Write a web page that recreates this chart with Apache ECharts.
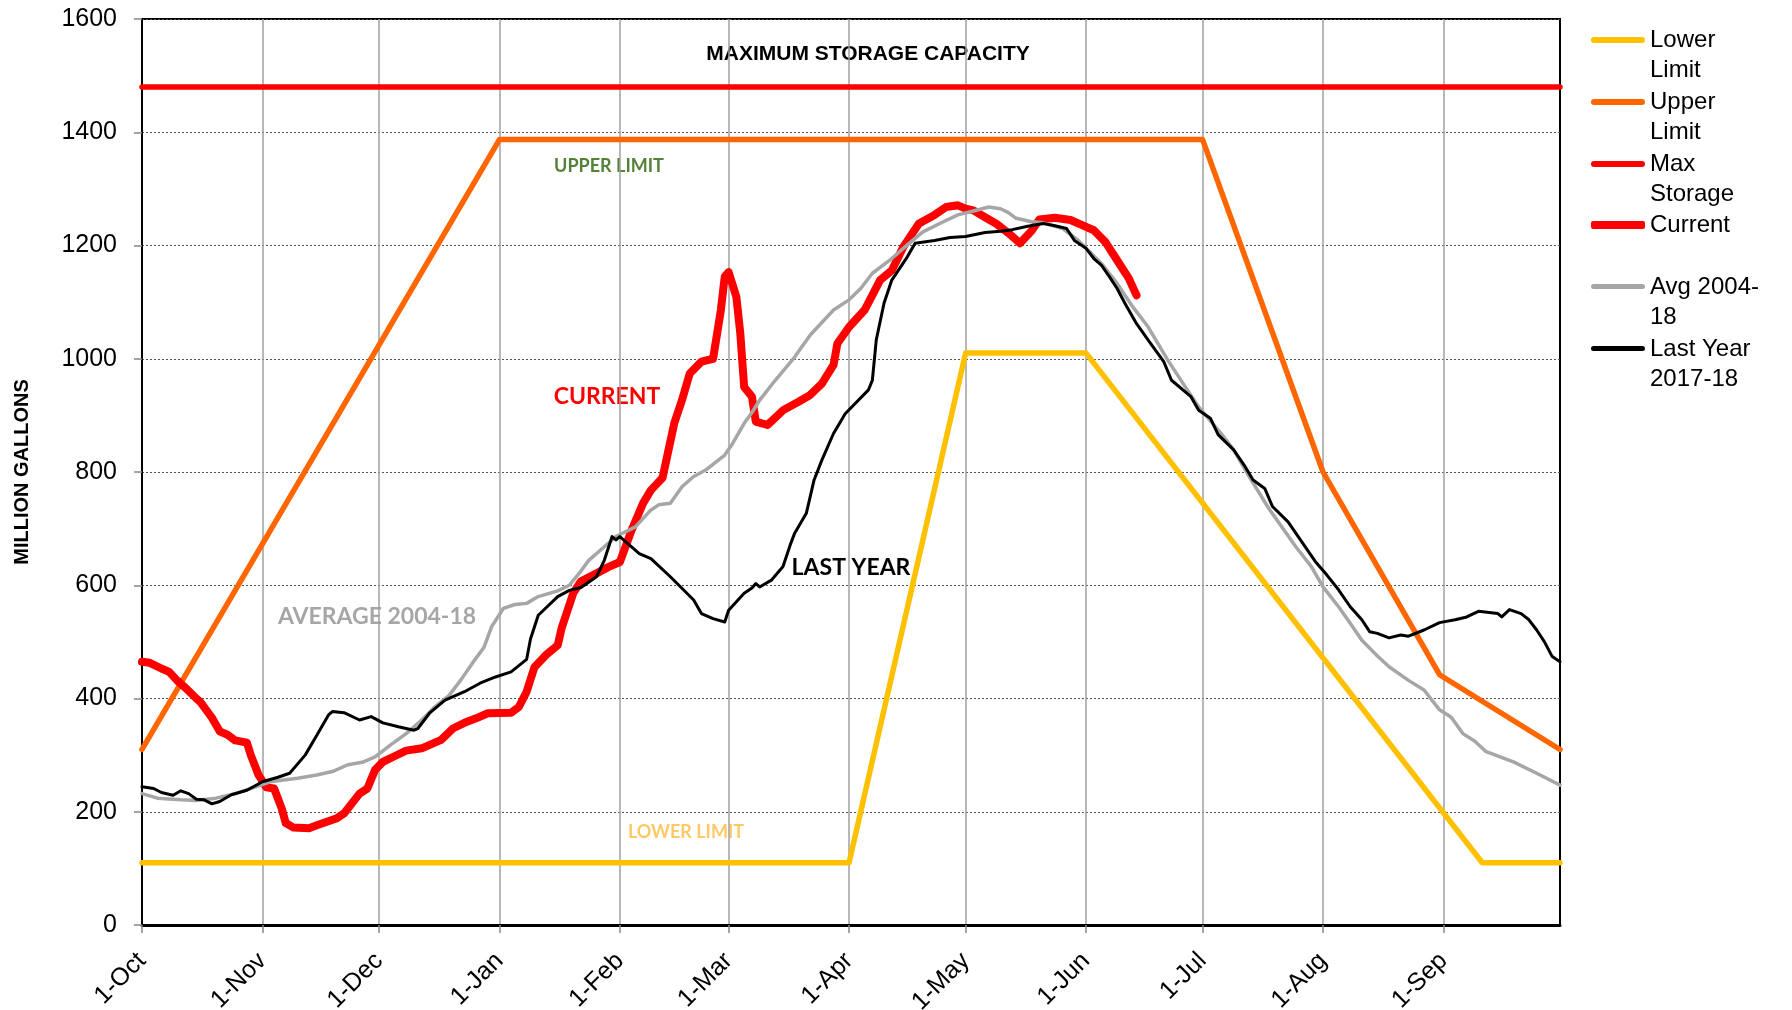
<!DOCTYPE html>
<html style="height: 100%">
<head>
    <meta charset="utf-8">
</head>
<body style="height: 100%; margin: 0">
<div id="container" style="width: 1792px; height: 1010px"></div>
<script type="text/javascript" src="https://cdn.jsdelivr.net/npm/echarts@6/dist/echarts.min.js"></script>
<script type="text/javascript">

var dom = document.getElementById("container");
var myChart = echarts.init(dom);

// water year, days counted from 1-Oct (day 0) to 1-Oct of next year (day 365)
var monthNames = ['Oct', 'Nov', 'Dec', 'Jan', 'Feb', 'Mar', 'Apr', 'May', 'Jun', 'Jul', 'Aug', 'Sep'];
var monthLengths = [31, 30, 31, 31, 28, 31, 30, 31, 30, 31, 31, 30];

var lowerDays = [0, 182, 212, 243, 345, 365];
var lowerValues = [110, 110, 1010, 1010, 110, 110];

var upperDays = [0, 92, 273, 304, 334, 365];
var upperValues = [310, 1387, 1387, 800, 442, 310];

var maxDays = [0, 365];
var maxValues = [1480, 1480];

var currentDays = [0, 2, 5, 7, 9, 11, 14, 15, 18, 20, 22, 24, 27, 28, 30, 32, 34, 36, 37, 39,
    43, 45, 50, 52, 56, 58, 60, 62, 65, 68, 72, 77, 80, 83, 86, 89, 95, 97, 99, 101,
    104, 107, 108, 110, 111, 113, 117, 120, 123, 126, 129, 131, 134, 137, 139, 141, 144, 147, 149, 150,
    151, 153, 154, 155, 157, 158, 161, 165, 169, 172, 175, 178, 179, 182, 186, 190, 193, 196, 200, 204,
    207, 210, 212, 214, 217, 220, 223, 225, 226, 229, 231, 235, 239, 242, 245, 248, 251, 254, 256];
var currentValues = [465, 463, 453, 447, 432, 420, 400, 394, 366, 342, 336, 326, 322, 300, 265, 243, 241, 205, 180, 172,
    171, 176, 188, 197, 232, 241, 274, 288, 298, 308, 312, 327, 347, 357, 365, 374, 375, 385, 412, 455,
    477, 494, 524, 565, 586, 607, 621, 632, 641, 697, 745, 768, 790, 886, 927, 974, 995, 1000, 1086, 1145,
    1153, 1109, 1045, 950, 933, 889, 883, 909, 924, 936, 956, 989, 1027, 1056, 1086, 1139, 1156, 1198, 1239, 1254,
    1268, 1271, 1265, 1262, 1250, 1238, 1222, 1210, 1204, 1226, 1246, 1249, 1245, 1236, 1227, 1206, 1174, 1142, 1112];

var avgDays = [0, 4, 10, 14, 19, 24, 28, 33, 40, 45, 49, 53, 57, 60, 64, 68, 72, 75, 79, 82,
    85, 88, 90, 93, 96, 99, 102, 107, 110, 113, 115, 119, 122, 127, 131, 133, 136, 139, 142, 145,
    150, 152, 155, 157, 159, 163, 168, 172, 178, 182, 185, 188, 193, 197, 201, 206, 210, 214, 218, 221,
    223, 225, 229, 232, 237, 241, 247, 251, 255, 259, 264, 268, 272, 278, 281, 285, 290, 294, 297, 301,
    304, 308, 311, 314, 318, 321, 326, 330, 334, 337, 340, 343, 346, 353, 359, 365];
var avgValues = [232, 224, 221, 220, 224, 232, 241, 253, 259, 265, 271, 283, 288, 297, 318, 338, 362, 383, 405, 432,
    462, 490, 527, 559, 566, 568, 580, 590, 600, 625, 644, 668, 686, 703, 733, 742, 745, 774, 792, 803,
    830, 850, 886, 905, 927, 962, 1003, 1042, 1086, 1104, 1124, 1151, 1177, 1201, 1224, 1241, 1254, 1261, 1268, 1265,
    1258, 1248, 1242, 1240, 1230, 1209, 1168, 1133, 1092, 1056, 998, 956, 915, 866, 839, 792, 736, 697, 668, 633,
    597, 562, 533, 503, 475, 456, 432, 415, 380, 367, 338, 325, 306, 288, 268, 247];

var lastDays = [0, 3, 5, 8, 10, 12, 14, 16, 18, 20, 23, 27, 31, 35, 38, 42, 45, 48, 49, 52,
    56, 59, 62, 66, 70, 71, 74, 78, 83, 87, 91, 95, 99, 100, 102, 107, 110, 113, 117, 119,
    121, 122, 123, 128, 131, 136, 142, 144, 147, 150, 151, 155, 157, 158, 159, 162, 165, 167, 168, 171,
    173, 175, 178, 181, 187, 188, 189, 191, 193, 197, 199, 204, 208, 212, 217, 221, 224, 228, 232, 235,
    238, 240, 243, 245, 247, 249, 251, 253, 256, 259, 263, 265, 270, 272, 275, 277, 281, 284, 286, 289,
    291, 295, 297, 300, 302, 305, 308, 311, 314, 316, 318, 321, 324, 326, 330, 334, 338, 341, 344, 349,
    350, 352, 355, 357, 359, 361, 363, 365];
var lastValues = [244, 241, 234, 229, 237, 232, 222, 221, 214, 218, 230, 238, 253, 261, 268, 300, 335, 371, 377, 375,
    362, 368, 357, 350, 344, 347, 374, 397, 412, 427, 438, 447, 469, 505, 547, 580, 591, 596, 615, 644,
    686, 680, 686, 656, 647, 615, 574, 550, 541, 535, 556, 586, 595, 603, 597, 609, 633, 674, 692, 727,
    786, 821, 868, 903, 945, 962, 1033, 1098, 1139, 1180, 1204, 1209, 1214, 1216, 1223, 1225, 1228, 1234, 1239, 1235,
    1230, 1209, 1195, 1177, 1165, 1145, 1124, 1098, 1062, 1033, 995, 962, 933, 909, 895, 866, 839, 809, 786, 771,
    739, 712, 692, 662, 642, 618, 592, 562, 539, 518, 515, 507, 512, 510, 521, 534, 539, 544, 554, 550,
    544, 557, 550, 539, 521, 500, 474, 465];

var categories = [];
var monthStarts = {};
monthNames.forEach(function (m, i) {
    monthStarts[categories.length] = true;
    for (var d = 1; d <= monthLengths[i]; d++) {
        categories.push(d + '-' + m);
    }
});
categories.push('1-Oct');

function pairs(days, values) {
    return days.map(function (d, i) { return [d, values[i]]; });
}
function isMonthStart(index) {
    return monthStarts[index] === true;
}

var FONT = '"Liberation Sans", Arial, sans-serif';
var NOTE_FONT = 'Lato, "Open Sans", sans-serif';

function lineSeries(name, color, width, data) {
    return {
        name: name,
        type: 'line',
        data: data,
        symbol: 'none',
        color: color,
        lineStyle: { color: color, width: width, cap: 'round', join: 'round' },
        emphasis: { disabled: true },
        animation: false
    };
}

// legend swatch sits level with the first line of a two-line label
function barIcon(thick) {
    var r = thick / 2;
    return 'path://M' + r + ',0 L' + (54 - r) + ',0 A' + r + ',' + r + ' 0 0 1 ' + (54 - r) + ',' + thick +
        ' L' + r + ',' + thick + ' A' + r + ',' + r + ' 0 0 1 ' + r + ',0 Z M0,36 L54,36';
}

function legendEntry(name, text, top, thick) {
    var twoLines = text.indexOf('\n') >= 0;
    return {
        data: [name],
        orient: 'vertical',
        left: 1591,
        top: top,
        padding: 0,
        icon: twoLines ? barIcon(thick) : 'roundRect',
        itemWidth: 54,
        itemHeight: twoLines ? 36 : thick,
        itemGap: 0,
        selectedMode: false,
        itemStyle: { borderWidth: 0 },
        formatter: function () { return text; },
        textStyle: { fontFamily: FONT, fontSize: 24, color: '#000', lineHeight: 30 }
    };
}

var option = {
    backgroundColor: '#fff',
    animation: false,
    grid: {
        left: 142, right: 232, top: 19, bottom: 85,
        outerBoundsMode: 'none',
        show: true, borderColor: '#000', borderWidth: 2
    },
    legend: [
        legendEntry('Lower Limit', 'Lower\nLimit', 25, 6),
        legendEntry('Upper Limit', 'Upper\nLimit', 87, 6),
        legendEntry('Max Storage', 'Max\nStorage', 149, 6),
        legendEntry('Current', 'Current', 210, 8),
        legendEntry('Avg 2004-18', 'Avg 2004-\n18', 272, 5),
        legendEntry('Last Year 2017-18', 'Last Year\n2017-18', 334, 5)
    ],
    xAxis: {
        type: 'category',
        data: categories,
        boundaryGap: false,
        axisLine: { lineStyle: { color: '#000', width: 3 } },
        axisTick: { show: true, interval: isMonthStart, length: 8, lineStyle: { color: '#888', width: 1.5 } },
        axisLabel: {
            interval: isMonthStart,
            rotate: 45,
            margin: 32,
            fontFamily: FONT,
            fontSize: 25,
            color: '#000'
        },
        splitLine: { show: true, interval: isMonthStart, lineStyle: { color: '#a0a0a0', width: 1.5 } }
    },
    yAxis: {
        type: 'value',
        min: 0,
        max: 1600,
        interval: 200,
        name: 'MILLION GALLONS',
        nameLocation: 'middle',
        nameGap: 110,
        nameTextStyle: { fontFamily: FONT, fontSize: 20, fontWeight: 'bold', color: '#000' },
        axisLine: { show: true, lineStyle: { color: '#000', width: 2 } },
        axisTick: { show: true, length: 8, lineStyle: { color: '#888', width: 1.5 } },
        axisLabel: {
            margin: 25, fontFamily: FONT, fontSize: 25, color: '#000',
            formatter: function (v) { return String(v); }
        },
        splitLine: { show: true, lineStyle: { color: '#555', width: 1, type: [2, 2] } }
    },
    series: [
        lineSeries('Lower Limit', '#FFC000', 5.5, pairs(lowerDays, lowerValues)),
        lineSeries('Upper Limit', '#FF6600', 5.5, pairs(upperDays, upperValues)),
        lineSeries('Max Storage', '#FF0000', 5.5, pairs(maxDays, maxValues)),
        lineSeries('Current', '#FF0000', 8, pairs(currentDays, currentValues)),
        lineSeries('Avg 2004-18', '#A6A6A6', 3.5, pairs(avgDays, avgValues)),
        lineSeries('Last Year 2017-18', '#000000', 3, pairs(lastDays, lastValues))
    ],
    graphic: [
        { type: 'text', x: 868, y: 54, style: { text: 'MAXIMUM STORAGE CAPACITY', fontFamily: FONT, fontWeight: 'bold', fontSize: 21, fill: '#000', align: 'center', verticalAlign: 'middle' } },
        { type: 'text', x: 609, y: 166, style: { text: 'UPPER LIMIT', fontFamily: NOTE_FONT, fontWeight: 'bold', fontSize: 18, fill: '#538135', align: 'center', verticalAlign: 'middle' } },
        { type: 'text', x: 607, y: 397, style: { text: 'CURRENT', fontFamily: NOTE_FONT, fontWeight: 'bold', fontSize: 23, fill: '#FF0000', align: 'center', verticalAlign: 'middle' } },
        { type: 'text', x: 377, y: 617, style: { text: 'AVERAGE 2004-18', fontFamily: NOTE_FONT, fontWeight: 'bold', fontSize: 23, fill: '#A6A6A6', align: 'center', verticalAlign: 'middle' } },
        { type: 'text', x: 851, y: 568, style: { text: 'LAST YEAR', fontFamily: NOTE_FONT, fontWeight: 'bold', fontSize: 23, fill: '#000', align: 'center', verticalAlign: 'middle' } },
        { type: 'text', x: 686, y: 832, style: { text: 'LOWER LIMIT', fontFamily: NOTE_FONT, fontWeight: 'bold', fontSize: 18, fill: '#FFC966', align: 'center', verticalAlign: 'middle' } }
    ]
};

if (option && typeof option === 'object') {
    myChart.setOption(option);
}

</script>
</body>
</html>
